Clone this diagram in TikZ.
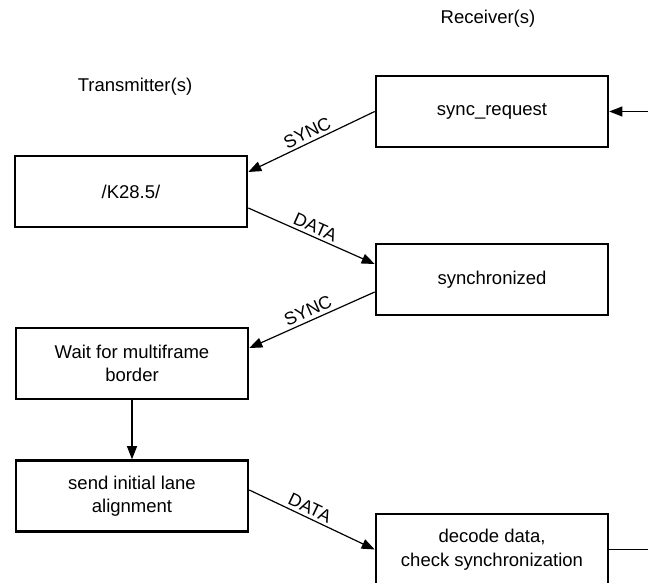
\documentclass[tikz,border=0pt]{standalone}
\usepackage{fontspec}
\setmainfont{Liberation Sans}
\usetikzlibrary{arrows.meta}
\begin{document}
\begin{tikzpicture}[x=1pt,y=-1pt,
  box/.style={draw=black, line width=2.6pt, fill=white, minimum width=232pt,
    minimum height=71pt, align=center, inner sep=0pt,
    font=\fontsize{18.5}{23.5}\selectfont},
  conn/.style={draw=black, line width=1.2pt, -{Triangle[length=13pt,width=10pt]}},
  plain/.style={draw=black, line width=1.2pt},
  lbl/.style={sloped, above, inner sep=3pt, font=\fontsize{18}{20}\selectfont},
  hdr/.style={font=\fontsize{18.5}{22}\selectfont}]
\useasboundingbox (0,0) rectangle (648,583);
\clip (0,0) rectangle (648,583);
\node[hdr] (rx) at (488,19) {Receiver(s)};
\node[hdr] (tx) at (135,87) {Transmitter(s)};
\node[box] (sr) at (492,111.5) {sync\_request};
\node[box] (k) at (131,191.5) {/K28.5/};
\node[box] (syn) at (492,279.5) {synchronized};
\node[box] (wait) at (132,363.5) {Wait for multiframe\\border};
\node[box] (send) at (132,496) {send initial lane\\alignment};
\node[box] (dec) at (492,549.5) {decode data,\\check synchronization};
\coordinate (inR) at (648,111.5);
\coordinate (outR) at (648,549.5);
\draw[conn] (sr.west) -- node[lbl] {SYNC} ([yshift=19.5pt]k.east);
\draw[conn] ([yshift=-16.5pt]k.east) -- node[lbl] {DATA} ([yshift=15.5pt]syn.west);
\draw[conn] ([yshift=-12.5pt]syn.west) -- node[lbl] {SYNC} ([yshift=15.5pt]wait.east);
\draw[conn] (wait.south) -- (send.north);
\draw[conn] ([yshift=6pt]send.east) -- node[lbl, pos=0.45] {DATA} (dec.west);
\draw[conn] (inR) -- (sr.east);
\draw[plain] (dec.east) -- (outR);
\end{tikzpicture}
\end{document}
